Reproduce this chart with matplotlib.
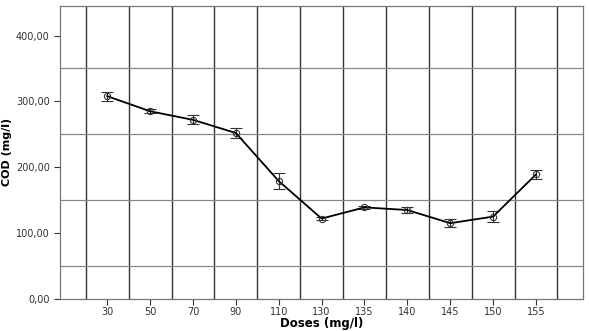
import matplotlib
matplotlib.use("Agg")
import matplotlib.pyplot as plt
import numpy as np

doses = ["30", "50", "70", "90", "110", "130", "135", "140", "145", "150", "155"]
cod_mean = [308, 285, 272, 252, 179, 122, 139, 135, 115, 125, 189]
cod_err = [7, 3, 7, 8, 12, 2, 2, 5, 6, 8, 7]

fig = plt.figure(figsize=(5.89, 3.31), dpi=100)
ax = fig.add_axes([0.102, 0.097, 0.888, 0.885])

x = np.arange(len(doses))

# grid: dark verticals between categories, grey horizontals at half steps
for xv in np.arange(-0.5, len(doses), 1.0):
  ax.axvline(xv, color="#333333", lw=1.0, zorder=1)
for yv in [50, 150, 250, 350]:
  ax.axhline(yv, color="#888888", lw=0.9, zorder=1)

ax.errorbar(x, cod_mean, yerr=cod_err, color="black", lw=1.3,
            marker="o", ms=4.5, mfc="none", mec="#333333", mew=0.8,
            ecolor="#333333", elinewidth=0.8, capsize=4, capthick=0.8, zorder=3)

ax.set_xlim(-1.1, 11.1)
ax.set_ylim(0, 445)
ax.set_xticks(x)
ax.set_xticklabels(doses)
ax.set_yticks([0, 100, 200, 300, 400])
ax.set_yticklabels(["0,00", "100,00", "200,00", "300,00", "400,00"])
ax.tick_params(labelsize=7, colors="#333333", length=4, width=0.8)
ax.tick_params(axis="x", pad=2)

for s in ax.spines.values():
  s.set_color("#777777")
  s.set_linewidth(0.9)

ax.set_xlabel("Doses (mg/l)", fontsize=8.5, fontweight="bold", labelpad=0)
ax.set_ylabel("COD (mg/l)", fontsize=8, fontweight="bold", labelpad=3)

fig.savefig("out.png", dpi=100)
